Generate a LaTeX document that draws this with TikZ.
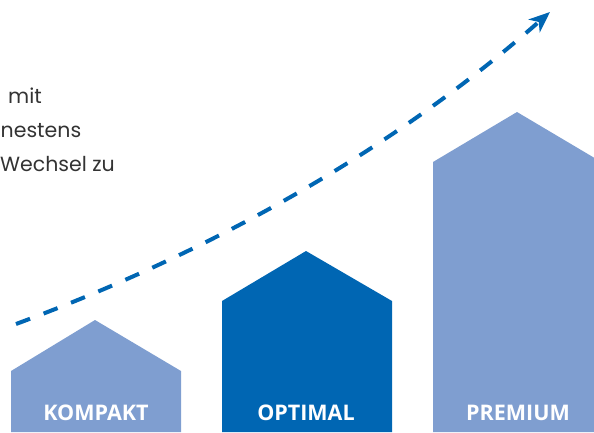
\documentclass[tikz,border=0pt]{standalone}
\usepackage{fontspec}
\setmainfont{Poppins}
\newfontfamily\labelfont{Open Sans}
\usetikzlibrary{arrows.meta}
\definecolor{lightblue}{HTML}{7F9ED0}
\definecolor{darkblue}{HTML}{0066B3}
\definecolor{textgray}{HTML}{333333}
\tikzset{
  lbl/.style={text=white, font=\labelfont\bfseries\fontsize{21.5}{24}\selectfont, anchor=base, inner sep=0pt},
  bodytext/.style={text=textgray, font=\fontsize{20.5}{24}\selectfont, anchor=base east, inner sep=0pt},
  trend/.style={draw=darkblue, line width=4pt, dash pattern=on 15pt off 14.5pt,
    -{Stealth[length=21pt,width=17pt,inset=6pt]}}
}
\begin{document}
\begin{tikzpicture}[x=1pt,y=-1pt]
\useasboundingbox (0,0) rectangle (594,432);
\clip (0,0) rectangle (594,432);
% houses
\fill[lightblue] (11,432) -- (11,371) -- (95,320) -- (181,371) -- (181,432) -- cycle;
\fill[darkblue] (222,432) -- (222,301) -- (306,251) -- (392,301) -- (392,432) -- cycle;
\fill[lightblue] (433,432) -- (433,162) -- (517,112) -- (603,163) -- (603,432) -- cycle;
% labels
\node[lbl] (kompakt) at (96,420.5) {KOMPAKT};
\node[lbl] (optimal) at (306,420.5) {OPTIMAL};
\node[lbl] (premium) at (518,420.5) {PREMIUM};
% text (paragraph fragments)
\node[bodytext] (t1) at (42,103) {mit};
\node[bodytext, anchor=base west] (t2) at (0.5,137.5) {nestens};
\node[bodytext] (t3) at (115,171.7) {Wechsel zu};
% trend arrow
\coordinate (s) at (16,324);
\coordinate (e) at (550,12);
\draw[trend] (s) .. controls (222.4,247.6) and (400.4,143.6) .. (e);
\end{tikzpicture}
\end{document}
